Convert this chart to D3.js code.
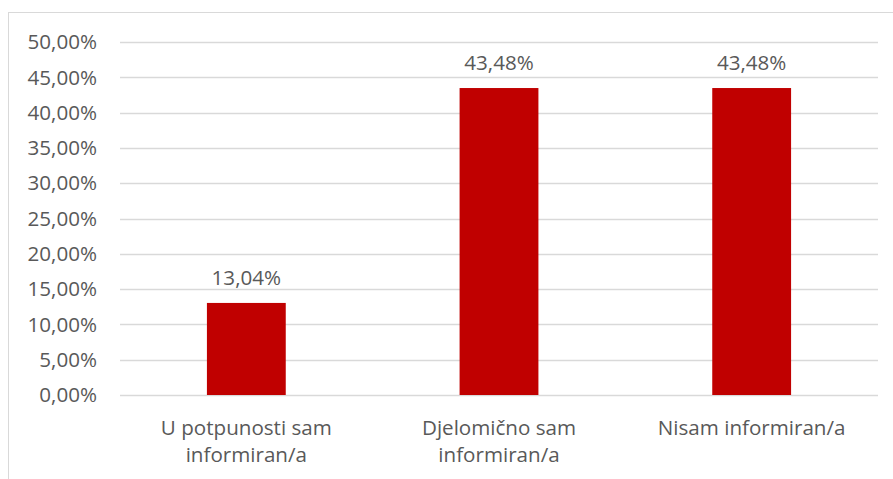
<!DOCTYPE html>
<html><head><meta charset="utf-8">
<script src="https://cdn.jsdelivr.net/npm/d3@7"></script>
<style>body{margin:0;background:#fff}svg{display:block}text{font-family:"Open Sans",sans-serif;fill:#595959}</style>
</head><body>
<script>
const categories = [["U potpunosti sam","informiran/a"],["Djelomično sam","informiran/a"],["Nisam informiran/a"]];
const values = [13.04, 43.48, 43.48];
const valueLabels = ["13,04%","43,48%","43,48%"];
const ticks = [0,5,10,15,20,25,30,35,40,45,50];
const tickLabels = ["0,00%","5,00%","10,00%","15,00%","20,00%","25,00%","30,00%","35,00%","40,00%","45,00%","50,00%"];

const W=893,H=479,FS=20.6;
const svg=d3.select("body").append("svg").attr("width",W).attr("height",H);
svg.append("rect").attr("x",8.5).attr("y",12.5).attr("width",W).attr("height",H).attr("fill","none").attr("stroke","#d9d9d9").attr("stroke-width",1);
const x=d3.scaleBand().domain(d3.range(3)).range([120,878]).paddingInner(0.688).paddingOuter(0.344);
const y=d3.scaleLinear().domain([0,50]).range([395,42]);
svg.append("g").selectAll("line").data(ticks).join("line")
 .attr("x1",120).attr("x2",878).attr("y1",d=>Math.round(y(d))+0.5).attr("y2",d=>Math.round(y(d))+0.5)
 .attr("stroke","#d9d9d9").attr("stroke-width",1.3);
svg.append("g").selectAll("text").data(ticks).join("text")
 .attr("x",97).attr("y",d=>y(d)).attr("dy","0.35em").attr("text-anchor","end").attr("font-size",FS)
 .text((d,i)=>tickLabels[i]);
svg.append("g").selectAll("rect").data(values).join("rect")
 .attr("x",(d,i)=>x(i)).attr("width",x.bandwidth()).attr("y",d=>y(d)).attr("height",d=>y(0)-y(d)).attr("fill","#c00000");
svg.append("g").selectAll("text").data(values).join("text")
 .attr("x",(d,i)=>x(i)+x.bandwidth()/2).attr("y",d=>y(d)-25).attr("dy","0.35em").attr("text-anchor","middle").attr("font-size",FS)
 .text((d,i)=>valueLabels[i]);
const cg=svg.append("g").selectAll("text").data(categories).join("text")
 .attr("x",(d,i)=>x(i)+x.bandwidth()/2).attr("text-anchor","middle").attr("font-size",FS);
cg.each(function(d,i){
  const t=d3.select(this);
  d.forEach((line,j)=>t.append("tspan").attr("x",x(i)+x.bandwidth()/2).attr("y",428+j*27).attr("dy","0.35em").text(line));
});
</script>
</body></html>
